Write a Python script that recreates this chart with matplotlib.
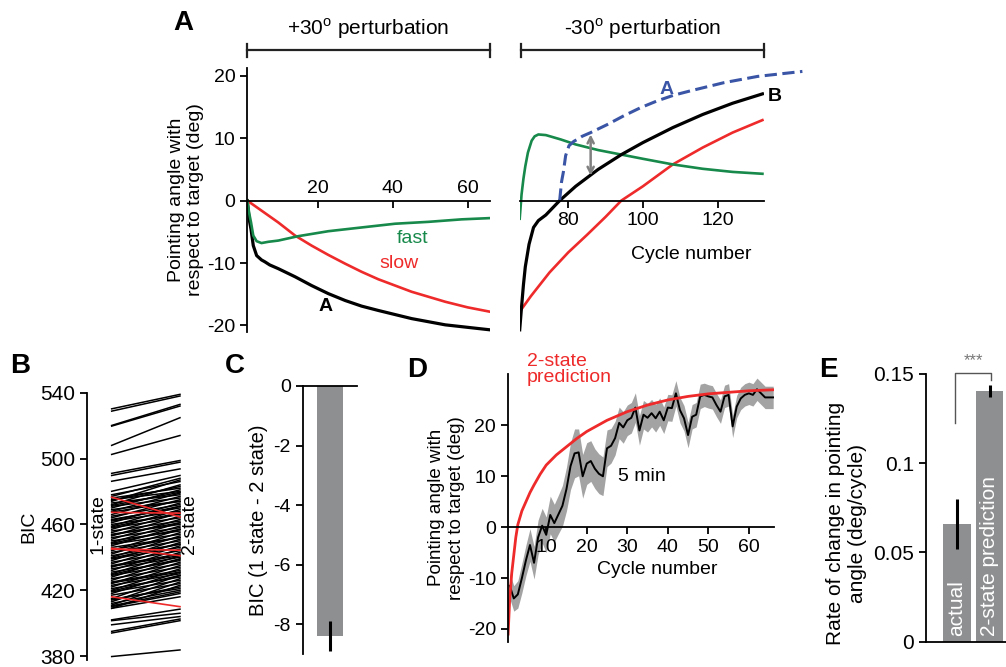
import numpy as np
import matplotlib.pyplot as plt

plt.rcParams['font.family'] = ['Liberation Sans', 'DejaVu Sans']
plt.rcParams['axes.unicode_minus'] = False
plt.rcParams['axes.linewidth'] = 1.3
plt.rcParams['xtick.major.width'] = 1.3
plt.rcParams['ytick.major.width'] = 1.3
plt.rcParams['xtick.major.size'] = 5
plt.rcParams['ytick.major.size'] = 5

# ---- panel A data ----
cyc_pos = [1, 1.5, 2, 2.6, 3.5, 4.8, 5.7, 7, 9.3, 13.8, 18.2, 22.7, 27.2, 31.6, 36.1, 45, 54, 60, 66]
net_pos = [0, -3.0, -4.6, -7.2, -8.8, -9.5, -9.8, -10.3, -10.9, -12.2, -13.6, -14.9, -16.0, -16.9, -17.6, -18.9, -19.9, -20.3, -20.7]
cyc_pos_s = [1, 4.8, 9.3, 13.8, 18.2, 22.7, 27.2, 31.6, 36.1, 45, 54, 60, 66]
slow_pos = [0, -1.6, -3.5, -5.6, -7.2, -8.7, -10.1, -11.4, -12.6, -14.6, -16.2, -17.1, -17.8]
cyc_pos_f = [1, 1.5, 2, 2.6, 3.5, 4.8, 6.6, 9.3, 14.6, 22.7, 31.6, 40.6, 49.5, 58.4, 66]
fast_pos = [0, -2.0, -3.5, -5.6, -6.5, -6.8, -6.6, -6.4, -5.7, -4.9, -4.3, -3.7, -3.4, -3.0, -2.8]

cyc_neg = [67, 67.5, 68, 68.5, 69.5, 70.7, 72, 74, 77.7, 82, 88, 94.3, 100, 108, 116, 124, 132]
net_neg = [-20.7, -17, -13.5, -10.6, -7, -4.3, -3.2, -2.3, 0, 2.3, 5, 7.4, 9.3, 11.7, 13.8, 15.6, 17.1]
cyc_neg_s = [67, 70, 75, 80, 85, 90, 94.2, 100, 108, 116, 124, 132]
slow_neg = [-17.8, -15.3, -11.5, -8.3, -5.5, -2.6, 0, 2.3, 5.8, 8.5, 10.9, 12.9]
cyc_neg_f = [67, 67.5, 68, 68.5, 69.2, 70.2, 71, 72, 74, 78, 82, 88, 94, 100, 108, 116, 124, 132]
fast_neg = [-2.9, 1, 3.5, 5.5, 7.7, 9.6, 10.3, 10.6, 10.5, 9.8, 9.0, 8.1, 7.4, 6.7, 5.8, 5.1, 4.6, 4.3]
shift_A = 76.7   # curve A re-plotted (mirrored) from the onset of the -30 block

# ---- panel B data ----
bic_1state = [530.2, 528.8, 520.1, 519.7, 508.0, 502.5, 491.0, 489.7, 486.2, 480.1,
              478, 477, 476, 475, 474, 473, 472, 471, 470, 469, 468, 466, 465, 464, 463,
              462, 461, 460, 459, 458, 457, 456, 455, 454, 453, 452, 451, 450, 449, 448,
              447, 446, 444, 443, 442, 441, 440, 439, 438, 437, 436, 435, 434, 433, 432,
              431, 430, 429, 428, 427, 426, 425, 424, 423, 422, 421, 420, 419, 418, 417,
              415, 414, 413, 412, 411, 410, 409, 409,
              474.5, 471.5, 467.5, 462.5, 458.5, 453.5, 448.5, 444.5, 439.5, 434.5,
              429.5, 424.5, 419.5, 414.5, 410.5,
              402.0, 401.5, 399.0, 395.0, 394.0, 379.7]
bic_2state = [539.0, 538.0, 532.9, 531.9, 524.8, 514.0, 498.8, 497.8, 493.7, 489.7,
              486, 488, 482, 480, 487, 478, 484, 476, 481, 474, 479, 477, 472, 475, 470,
              468, 473, 466, 471, 464, 469, 462, 467, 460, 465, 458, 463, 456, 461, 454,
              459, 452, 457, 450, 455, 448, 453, 446, 451, 444, 449, 442, 447, 440, 445,
              438, 443, 436, 441, 434, 439, 432, 437, 430, 435, 428, 433, 426, 431, 424,
              429, 422, 427, 420, 425, 418, 423, 416,
              483, 479.5, 474, 471, 467, 461, 457, 452, 448, 441,
              439, 431, 429, 421, 419,
              408.5, 406.0, 404.0, 402.5, 401.5, 383.7]
bic_red_1 = [476.5, 467.3, 445.5, 445.0, 416.0]
bic_red_2 = [464.5, 466.8, 441.0, 444.3, 410.0]

# ---- panel C data ----
bic_diff_mean = -8.4
bic_diff_err = 0.5

# ---- panel D data ----
d_cycles = list(range(1, 67))
d_mean = [-11.5, -14.0, -13.2, -10.0, -6.5, -3.5, -7.0, -2.0, 0.3, -1.5,
          2.4, 0.8, 2.5, 4.2, 7.5, 12.0, 14.5, 14.7, 10.0, 12.5,
          13.0, 11.5, 10.5, 10.0, 15.5, 16.0, 17.5, 20.5, 19.6, 21.0,
          21.5, 23.5, 19.0, 22.1, 21.5, 22.4, 21.4, 22.7, 21.0, 23.5,
          23.4, 26.3, 23.0, 21.4, 18.1, 21.7, 22.1, 25.7, 26.0, 25.7,
          25.5, 24.0, 22.7, 25.7, 26.0, 19.8, 23.7, 25.3, 26.0, 26.3,
          26.0, 27.1, 26.3, 25.5, 25.5, 25.5]
d_sem = [2.5, 2.5, 2.7, 2.9, 3.0, 3.2, 3.2, 3.4, 3.4, 3.5,
         3.7, 3.7, 3.8, 4.0, 4.3, 4.6, 4.8, 4.6, 4.3, 4.1,
         4.0, 3.9, 3.9, 3.8, 3.6, 3.4, 3.3, 3.1, 3.1, 3.0,
         3.0, 2.9, 2.9, 2.8, 2.8, 2.7, 2.7, 2.7, 2.6, 2.6,
         2.6, 2.5, 2.5, 2.5, 2.5, 2.4, 2.4, 2.4, 2.3, 2.3,
         2.3, 2.3, 2.3, 2.2, 2.2, 2.2, 2.2, 2.2, 2.2, 2.2,
         2.2, 2.2, 2.2, 2.2, 2.2, 2.2]
pred_cycles = [0.6, 1, 1.5, 2, 2.5, 3, 4, 5, 6, 7, 8.5, 10, 12.5, 15, 17.5, 20, 25, 30, 35, 40, 45, 50, 55, 60, 66]
pred_vals = [-21, -14, -9, -5.5, -2, 0.5, 3.2, 5, 6.8, 8.3, 10.4, 12.2, 14.2, 15.8, 17.4, 18.8,
             21, 22.7, 24, 25, 25.7, 26.2, 26.5, 26.8, 27]

# ---- panel E data ----
e_labels = ['actual', '2-state prediction']
e_rates = [0.066, 0.1405]
e_errs = [0.014, 0.0035]

W, H = 1006, 667
GREEN = '#17894a'
RED = '#ee2a2a'
BLUE = '#3b55a6'
BAR = '#8e8f91'
FS = 14


def box(x0, y0, x1, y1):
    return [x0 / W, 1 - y1 / H, (x1 - x0) / W, (y1 - y0) / H]


fig = plt.figure(figsize=(W / 100, H / 100), dpi=100)

# ================= A, +30 block =================
ax1 = fig.add_axes(box(247.3, 68.3, 490, 331.7))
ax1.plot(cyc_pos, net_pos, color='black', lw=2.3)
ax1.plot(cyc_pos_s, slow_pos, color=RED, lw=1.9)
ax1.plot(cyc_pos_f, fast_pos, color=GREEN, lw=1.9)
ax1.set_xlim(1, 66)
ax1.set_ylim(-21, 21.2)
for s in ['top', 'right']:
    ax1.spines[s].set_visible(False)
ax1.spines['bottom'].set_position(('data', 0))
ax1.set_xticks([20, 40, 60])
ax1.set_yticks([-20, -10, 0, 10, 20])
ax1.tick_params(axis='x', direction='out', pad=-20, labelsize=FS)
ax1.tick_params(axis='y', labelsize=FS)
ax1.text(45.3, -6.0, 'fast', color=GREEN, fontsize=FS, ha='center', va='center')
ax1.text(41.7, -10.1, 'slow', color=RED, fontsize=FS, ha='center', va='center')
ax1.text(22, -16.9, 'A', color='black', fontsize=FS, fontweight='bold', ha='center', va='center')
ax1.set_ylabel('Pointing angle with\nrespect to target (deg)', fontsize=FS, labelpad=2)

# ================= A, -30 block =================
ax2 = fig.add_axes(box(519.7, 68.3, 764.3, 331.7))
ax2.plot(cyc_neg_s, slow_neg, color=RED, lw=1.9)
ax2.plot(cyc_neg_f, fast_neg, color=GREEN, lw=1.9)
ax2.plot(cyc_neg, net_neg, color='black', lw=2.3)
ax2.plot(np.array(cyc_pos) + shift_A, -np.array(net_pos), color=BLUE, lw=2.2,
         ls=(0, (4, 1.8)), clip_on=False)
ax2.annotate('', xy=(86, 10.6), xytext=(86, 4.0),
             arrowprops=dict(arrowstyle='<->', color='#808080', lw=1.8,
                             mutation_scale=11, shrinkA=0, shrinkB=0))
ax2.set_xlim(67, 132.5)
ax2.set_ylim(-21, 21.2)
for s in ['top', 'right', 'left']:
    ax2.spines[s].set_visible(False)
ax2.spines['bottom'].set_position(('data', 0))
ax2.set_yticks([])
ax2.set_xticks([80, 100, 120])
ax2.tick_params(axis='x', direction='out', labelsize=FS)
ax2.set_xlabel('Cycle number', fontsize=FS)
ax2.xaxis.set_label_coords(0.703, 0.325)
ax2.text(106.2, 17.8, 'A', color=BLUE, fontsize=FS, fontweight='bold', ha='center', va='center')
ax2.text(135.2, 16.7, 'B', color='black', fontsize=FS, fontweight='bold', ha='center',
         va='center', clip_on=False)

# perturbation bars
for ax, lo, hi, label in [(ax1, 1, 66, '+30$^\\mathregular{o}$ perturbation'),
                          (ax2, 67.3, 132.3, '-30$^\\mathregular{o}$ perturbation')]:
    tr = ax.get_xaxis_transform()
    yb = (331.7 - 50) / 263.4
    yc = 6.5 / 263.4
    ax.plot([lo, hi], [yb, yb], color='#222222', lw=1.6, transform=tr, clip_on=False)
    for xx in (lo, hi):
        ax.plot([xx, xx], [yb - yc, yb + yc], color='#222222', lw=1.6, transform=tr, clip_on=False)
    ax.text((lo + hi) / 2, (331.7 - 29) / 263.4, label, transform=tr, ha='center',
            va='center', fontsize=15)

# ================= B =================
axB = fig.add_axes(box(87.3, 392.7, 195, 660))
for a, b in zip(bic_1state, bic_2state):
    axB.plot([0, 1], [a, b], color='black', lw=1.1)
for a, b in zip(bic_red_1, bic_red_2):
    axB.plot([0, 1], [a, b], color=RED, lw=1.2)
axB.set_xlim(-0.357, 1.22)
axB.set_ylim(377.6, 540)
for s in ['top', 'right', 'bottom']:
    axB.spines[s].set_visible(False)
axB.set_xticks([])
axB.set_yticks([380, 420, 460, 500, 540])
axB.tick_params(axis='y', labelsize=15)
axB.set_ylabel('BIC', fontsize=FS, labelpad=2)
axB.text(-0.2, 460, '1-state', rotation=90, ha='center', va='center', fontsize=FS)
axB.text(1.14, 460, '2-state', rotation=90, ha='center', va='center', fontsize=FS)

# ================= C =================
axC = fig.add_axes(box(302.7, 386, 356.7, 654))
axC.bar([0.506], [bic_diff_mean], width=0.493, color=BAR)
axC.errorbar([0.506], [bic_diff_mean], yerr=[bic_diff_err], color='black', lw=2.2, capsize=0)
axC.set_xlim(0, 1)
axC.set_ylim(-9.0, 0)
for s in ['right', 'bottom']:
    axC.spines[s].set_visible(False)
axC.set_xticks([])
axC.set_yticks([0, -2, -4, -6, -8])
axC.tick_params(axis='y', labelsize=FS)
axC.set_ylabel('BIC (1 state - 2 state)', fontsize=14.5, labelpad=4)

# ================= D =================
axD = fig.add_axes(box(507.7, 374, 774, 641.7))
lo_band = np.array(d_mean) - np.array(d_sem)
hi_band = np.array(d_mean) + np.array(d_sem)
axD.fill_between(d_cycles, lo_band, hi_band, color='#a3a3a3', lw=0)
axD.plot(d_cycles, d_mean, color='black', lw=1.4)
axD.plot(pred_cycles, pred_vals, color=RED, lw=2.0)
axD.set_xlim(0.5, 66.2)
axD.set_ylim(-22.5, 30.1)
for s in ['top', 'right']:
    axD.spines[s].set_visible(False)
axD.spines['bottom'].set_position(('data', 0))
axD.set_xticks([10, 20, 30, 40, 50, 60])
axD.set_yticks([-20, -10, 0, 10, 20])
axD.tick_params(labelsize=FS)
axD.set_xlabel('Cycle number', fontsize=FS)
axD.xaxis.set_label_coords(0.56, 0.3)
axD.set_ylabel('Pointing angle with\nrespect to target (deg)', fontsize=13.5, labelpad=2)
axD.text(5.3, 31.0, '2-state\nprediction', color=RED, fontsize=FS, ha='left', va='center',
         linespacing=0.95)
axD.text(33.5, 10.0, '5 min', fontsize=FS, ha='center', va='center')

# ================= E =================
axE = fig.add_axes(box(926, 374, 1006, 641.7))
xe = [0.3875, 0.796]
axE.bar(xe, e_rates, width=0.342, color=BAR)
axE.errorbar(xe, e_rates, yerr=e_errs, fmt='none', ecolor='black', elinewidth=2.2, capsize=0)
axE.set_xlim(0, 1)
axE.set_ylim(0, 0.15)
for s in ['top', 'right']:
    axE.spines[s].set_visible(False)
axE.set_xticks([])
axE.set_yticks([0, 0.05, 0.1, 0.15])
axE.set_yticklabels(['0', '0.05', '0.1', '0.15'])
axE.tick_params(axis='y', labelsize=15)
axE.set_ylabel('Rate of change in pointing\nangle (deg/cycle)', fontsize=15)
axE.yaxis.set_label_coords(-0.74, 0.44)
for xx, lab in zip(xe, e_labels):
    axE.text(xx, 0.003, lab, rotation=90, color='white', fontsize=15, ha='center', va='bottom')
axE.plot([0.3625, 0.3625, 0.81, 0.81], [0.1224, 0.1508, 0.1508, 0.1467], color='#555555',
         lw=1.0, clip_on=False)
axE.text(0.59, 0.1535, '***', color='#777777', fontsize=12, ha='center', va='bottom')

# panel letters
for lab, x, y in [('A', 183, 23), ('B', 20, 366), ('C', 235, 366), ('D', 417, 370), ('E', 828, 370)]:
    fig.text(x / W, 1 - y / H, lab, fontsize=20, fontweight='bold', ha='center', va='center')

fig.savefig('out.png', dpi=100)
